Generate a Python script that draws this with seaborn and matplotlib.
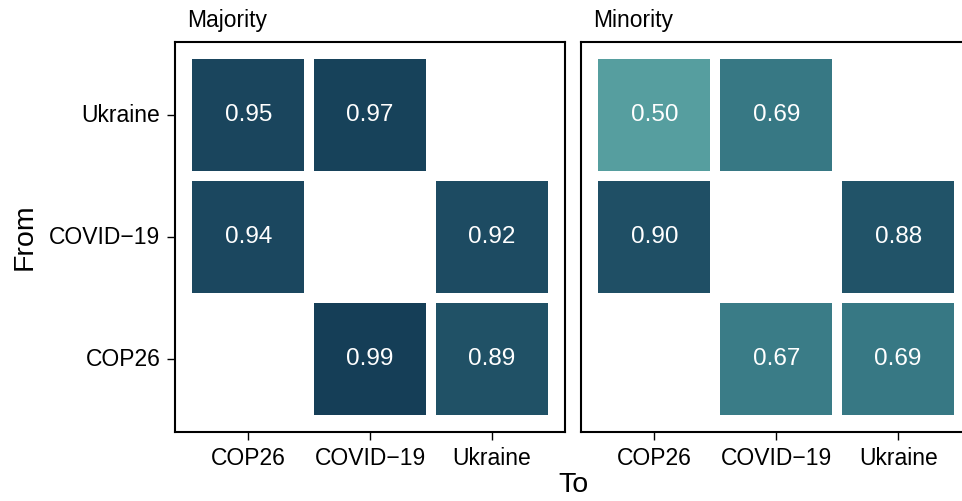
import numpy as np
import pandas as pd
import seaborn as sns
import matplotlib.pyplot as plt
from matplotlib.colors import LinearSegmentedColormap

plt.rcParams['font.family'] = ['Liberation Sans', 'DejaVu Sans']

# categories (rows top to bottom, columns left to right)
from_labels = ['Ukraine', 'COVID\u221219', 'COP26']
to_labels = ['COP26', 'COVID\u221219', 'Ukraine']

# transition shares, NaN on the diagonal
majority = [[0.95, 0.97, np.nan],
            [0.94, np.nan, 0.92],
            [np.nan, 0.99, 0.89]]
minority = [[0.50, 0.69, np.nan],
            [0.90, np.nan, 0.88],
            [np.nan, 0.67, 0.69]]

panels = {'Majority': majority, 'Minority': minority}

cmap = LinearSegmentedColormap.from_list(
    'teal', [(0.0, '#569E9F'), (0.36, '#387A86'), (1.0, '#143C56')])

W, H = 962, 501
dpi = 100
# small extra so the pixel size does not round down
fig = plt.figure(figsize=((W + 0.3) / dpi, (H + 0.3) / dpi), dpi=dpi)

lefts = [175, 581]
for i, (name, vals) in enumerate(panels.items()):
    ax = fig.add_axes([lefts[i] / W, 1 - 432 / H, 390 / W, 390 / H])
    df = pd.DataFrame(vals, index=from_labels, columns=to_labels)
    sns.heatmap(df, ax=ax, cmap=cmap, vmin=0.5, vmax=1.0, cbar=False,
                annot=True, fmt='.2f', linewidths=7.2, linecolor='white',
                annot_kws={'color': 'white', 'fontsize': 17.5})
    ax.set_xlim(-0.1, 3.1)
    ax.set_ylim(3.1, -0.1)
    for sp in ax.spines.values():
        sp.set_visible(True)
        sp.set_color('black')
        sp.set_linewidth(1.5)
    ax.tick_params(axis='x', length=5.5, width=1, pad=5, labelsize=16.5, labelrotation=0)
    if i == 0:
        ax.tick_params(axis='y', length=5.5, width=1, pad=5, labelsize=16.5, labelrotation=0)
    else:
        ax.tick_params(axis='y', left=False, labelleft=False)
        # panel runs past the right edge of the figure
        ax.spines['right'].set_visible(False)
    ax.set_xlabel('')
    ax.set_ylabel('')
    ax.text(0.031, 1.038, name, transform=ax.transAxes, fontsize=16.5,
            ha='left', va='baseline')

fig.text(573 / W, 3 / H, 'To', fontsize=20.5, ha='center', va='bottom')
fig.text(25 / W, 1 - 237 / H, 'From', fontsize=20.5, rotation=90,
         ha='center', va='center')

plt.savefig('out.png', dpi=dpi)
